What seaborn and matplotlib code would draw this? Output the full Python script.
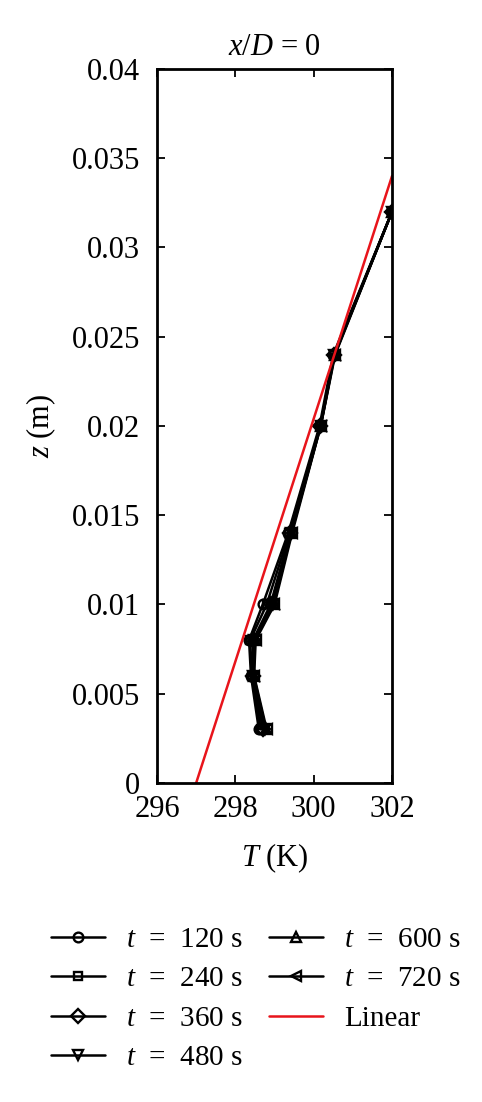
import numpy as np
import pandas as pd
import matplotlib
matplotlib.use("Agg")
import matplotlib.pyplot as plt
import seaborn as sns

# ---- data ----
z_levels = [0.003, 0.006, 0.008, 0.010, 0.014, 0.020, 0.024, 0.032]
T_120 = [298.60, 298.40, 298.35, 298.70, 299.35, 300.15, 300.50, 302.00]
T_240 = [298.65, 298.42, 298.38, 298.80, 299.38, 300.17, 300.52, 302.00]
T_360 = [298.70, 298.45, 298.45, 298.90, 299.40, 300.17, 300.53, 302.00]
T_480 = [298.75, 298.45, 298.48, 298.95, 299.42, 300.18, 300.53, 302.00]
T_600 = [298.78, 298.47, 298.50, 298.98, 299.43, 300.18, 300.54, 302.00]
T_720 = [298.80, 298.48, 298.52, 299.00, 299.45, 300.18, 300.55, 302.00]
linear_T = [297.0, 302.0]
linear_z = [0.0, 0.034]
series_labels = [r"$t$  =  120 s", r"$t$  =  240 s", r"$t$  =  360 s",
                 r"$t$  =  480 s", r"$t$  =  600 s", r"$t$  =  720 s"]
x_ticks = [296, 298, 300, 302]
y_ticks = [0, 0.005, 0.01, 0.015, 0.02, 0.025, 0.03, 0.035, 0.04]
y_ticklabels = ["0", "0.005", "0.01", "0.015", "0.02", "0.025", "0.03", "0.035", "0.04"]

sns.set_theme(style="ticks")
plt.rcParams["font.family"] = ["Liberation Serif", "DejaVu Serif"]
plt.rcParams["mathtext.fontset"] = "custom"
plt.rcParams["mathtext.rm"] = "Liberation Serif"
plt.rcParams["mathtext.it"] = "Liberation Serif:italic"
plt.rcParams["text.color"] = "black"
plt.rcParams["axes.labelcolor"] = "black"
plt.rcParams["xtick.color"] = "black"
plt.rcParams["ytick.color"] = "black"

FS = 22

fig = plt.figure(figsize=(4.82, 11.02), dpi=100)
ax = fig.add_axes([0.3257, 0.2895, 0.4876, 0.6479])

markers = ["o", "s", "D", "v", "^", "<"]
msizes = [7, 6, 7, 7, 7, 7]
all_T = [T_120, T_240, T_360, T_480, T_600, T_720]
for T, lab, m, ms in zip(all_T, series_labels, markers, msizes):
    sns.lineplot(x=T, y=z_levels, sort=False, estimator=None, ax=ax,
                 color="black", linewidth=2.4, marker=m, markersize=ms,
                 markerfacecolor="none", markeredgecolor="black",
                 markeredgewidth=1.7, label=lab)
sns.lineplot(x=linear_T, y=linear_z, sort=False, estimator=None, ax=ax,
             color="#e8141b", linewidth=2.0, label="Linear")

ax.set_xlim(296, 302)
ax.set_ylim(0, 0.04)
ax.set_xticks(x_ticks)
ax.set_yticks(y_ticks)
ax.set_yticklabels(y_ticklabels)
ax.tick_params(axis="y", direction="in", length=6, width=1.3, labelsize=FS,
               right=True, pad=12)
ax.tick_params(axis="x", direction="in", length=6, width=1.3, labelsize=FS,
               top=True, pad=9)
for s in ax.spines.values():
    s.set_linewidth(2.0)
    s.set_color("black")
ax.set_xlabel(r"$T$ (K)", fontsize=FS, labelpad=12)
ax.set_ylabel(r"$z$ (m)", fontsize=FS, labelpad=10)
ax.set_title(r"$x/D$ = 0", fontsize=FS, pad=10)

handles, labels = ax.get_legend_handles_labels()
for h in handles:
    h.set_linewidth(1.8)
ax.legend(handles, labels, ncol=2, loc="upper center",
          bbox_to_anchor=(0.42, -0.164), frameon=False, fontsize=21,
          handlelength=1.85, columnspacing=0.9, labelspacing=0.45,
          handletextpad=0.72)

fig.savefig("out.png", dpi=100)
